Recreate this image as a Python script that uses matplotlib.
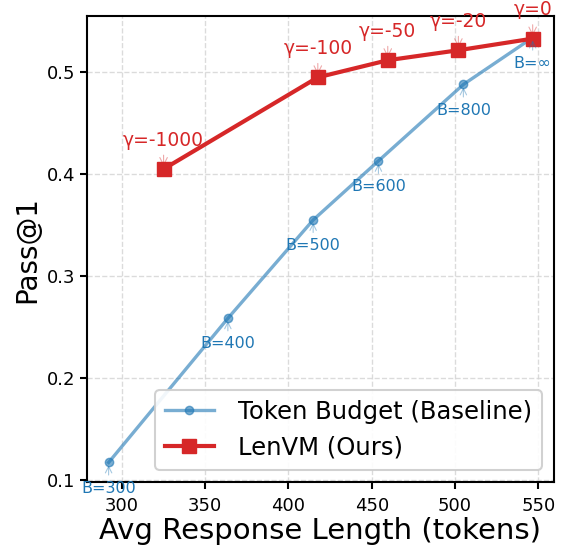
import matplotlib
matplotlib.use("Agg")
import matplotlib.pyplot as plt

# Token budget baseline
base_len = [292, 363.6, 414.8, 454, 505, 546.6]
base_acc = [0.117, 0.2585, 0.355, 0.413, 0.488, 0.534]
base_lab = ["B=300", "B=400", "B=500", "B=600", "B=800", "B=∞"]

# LenVM
lenvm_len = [325, 417.6, 459.6, 502, 546.6]
lenvm_acc = [0.405, 0.495, 0.5118, 0.5216, 0.533]
lenvm_lab = ["γ=-1000", "γ=-100", "γ=-50", "γ=-20", "γ=0"]

blue = "#1f77b4"
red = "#d62728"

fig = plt.figure(figsize=(5.61, 5.59), dpi=100)
ax = fig.add_axes([0.155, 0.138, 0.8325, 0.833])

ax.plot(base_len, base_acc, color=blue, alpha=0.6, linewidth=2.4, marker="o",
        markersize=6, label="Token Budget (Baseline)", zorder=3)
ax.plot(lenvm_len, lenvm_acc, color=red, linewidth=3, marker="s",
        markersize=10, label="LenVM (Ours)", zorder=4)

for x, y, t in zip(base_len, base_acc, base_lab):
    ax.annotate(t, xy=(x, y), xytext=(0, -13), textcoords="offset points",
                ha="center", va="top", fontsize=11.5, color=blue,
                arrowprops=dict(arrowstyle="->", color=blue, alpha=0.4, lw=0.8),
                annotation_clip=False, zorder=5)

for x, y, t in zip(lenvm_len, lenvm_acc, lenvm_lab):
    ax.annotate(t, xy=(x, y), xytext=(0, 14), textcoords="offset points",
                ha="center", va="bottom", fontsize=13.5, color=red,
                arrowprops=dict(arrowstyle="->", color=red, alpha=0.4, lw=0.8),
                annotation_clip=False, zorder=5)

ax.set_xlim(279, 559.4)
ax.set_ylim(0.098, 0.555)
ax.set_xticks([300, 350, 400, 450, 500, 550])
ax.set_yticks([0.1, 0.2, 0.3, 0.4, 0.5])
ax.tick_params(labelsize=13, width=1.5, length=5)
ax.tick_params(axis="x", pad=6)
for s in ax.spines.values():
    s.set_linewidth(1.5)

ax.set_xlabel("Avg Response Length (tokens)", fontsize=21, labelpad=1)
ax.set_ylabel("Pass@1", fontsize=20)
ax.grid(True, linestyle="--", color="lightgrey", alpha=0.8, linewidth=1)

leg = ax.legend(loc="lower right", fontsize=17.5, edgecolor="#cccccc",
                framealpha=0.9, fancybox=True, handletextpad=1.0)
leg.get_frame().set_linewidth(1.5)

fig.savefig("out.png", dpi=100)
